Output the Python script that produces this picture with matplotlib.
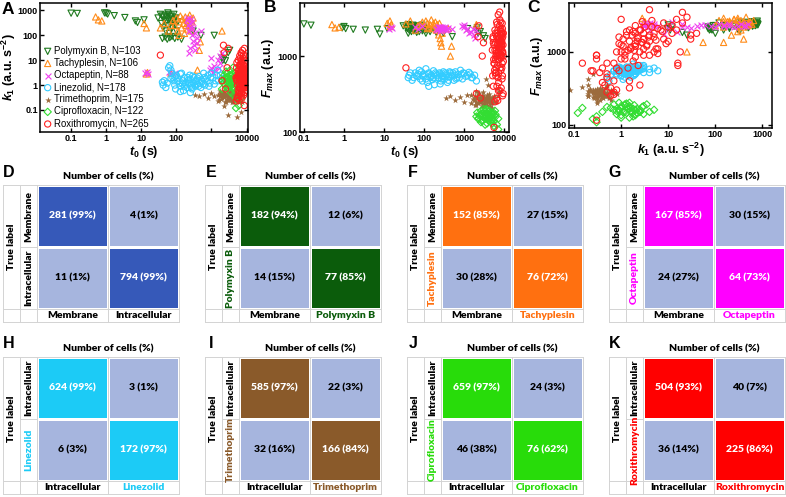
import numpy as np
import matplotlib
matplotlib.use('Agg')
import matplotlib.pyplot as plt
from matplotlib.colors import ListedColormap
from matplotlib.ticker import NullLocator

plt.rcParams['font.family'] = 'Liberation Sans'
plt.rcParams['mathtext.fontset'] = 'custom'
plt.rcParams['mathtext.it'] = 'Liberation Sans:italic:bold'
plt.rcParams['mathtext.rm'] = 'Liberation Sans:bold'
plt.rcParams['mathtext.bf'] = 'Liberation Sans:bold'

# each cell: (t0 [s], k1 [a.u. s^-2], Fmax [a.u.])
polymyxin = [(0.1, 780, 2650), (0.15, 760, 2550), (0.9, 800, 2350), (1.0, 780, 2450), (1.1, 720, 2300),
             (1.7, 620, 2250), (3.4, 520, 2200), (6.8, 380, 2250), (7.8, 330, 1950), (12, 420, 2300),
             (30, 500, 2500), (35, 700, 2400), (38, 300, 2300), (40, 600, 2600), (42, 200, 2200),
             (45, 400, 2450), (48, 650, 2350), (50, 150, 2250), (52, 350, 2550), (55, 500, 2150),
             (58, 250, 2400), (60, 700, 2300), (62, 120, 2500), (65, 450, 2200), (68, 300, 2350),
             (70, 550, 2450), (75, 200, 2100), (80, 400, 2300), (85, 700, 2500), (90, 250, 2250),
             (95, 500, 2400), (100, 150, 2300), (110, 350, 2200), (40, 75, 2000), (48, 85, 2100),
             (55, 70, 2200), (65, 80, 2050), (75, 90, 2300), (90, 75, 2150), (110, 85, 2000),
             (140, 70, 2100), (200, 300, 2050), (300, 150, 2000), (500, 100, 1800), (1200, 100, 2300),
             (2000, 12, 2200), (2100, 10, 2350), (2200, 11, 2000), (2500, 9.5, 2100), (3000, 20, 1850),
             (3300, 25, 1700), (44, 550, 2500), (57, 800, 2400), (72, 600, 2350), (88, 450, 2550)]
tachyplesin = [(0.5, 550, 2600), (0.6, 420, 2350), (0.75, 380, 2400), (12, 300, 2700), (14, 200, 2450),
               (80, 400, 2600), (90, 250, 2800), (100, 500, 2500), (110, 150, 2900), (120, 350, 2700),
               (130, 600, 2400), (140, 200, 2600), (150, 450, 3000), (160, 300, 2300), (170, 120, 2700),
               (180, 550, 2500), (190, 250, 2800), (200, 400, 2200), (210, 180, 2600), (220, 500, 2400),
               (230, 300, 1900), (240, 650, 2700), (250, 220, 1700), (260, 400, 1500), (270, 150, 1350),
               (280, 350, 2000), (300, 500, 2300), (120, 100, 2300), (70, 250, 2500), (60, 150, 2200),
               (45, 300, 2900), (35, 200, 2650), (14, 2.8, 2900), (15, 3.2, 2600), (70, 3, 2500),
               (400, 4, 2300), (450, 25, 1000), (480, 55, 1350), (2000, 150, 2600)]
octapeptin = [(13, 3, 2300), (15, 3.5, 2450), (16, 2.9, 2350), (60, 3.5, 2400), (70, 3, 2300),
              (90, 3.2, 2500), (200, 400, 2300), (210, 250, 2200), (220, 500, 2400), (230, 150, 2350),
              (240, 300, 2250), (250, 200, 2450), (260, 450, 2300), (270, 100, 2200), (280, 350, 2400),
              (290, 60, 2350), (300, 200, 2300), (320, 40, 2250), (330, 120, 2400), (350, 25, 2200),
              (380, 80, 2300), (250, 30, 2150), (230, 20, 2400), (400, 50, 2350), (500, 150, 2300),
              (900, 4, 2500), (1000, 5, 2400), (1100, 3.5, 2200), (1200, 6, 2300), (1300, 4, 2000),
              (1500, 10, 2100), (1700, 15, 1900), (2000, 20, 2200), (1800, 8, 1750), (1000, 12, 2600),
              (1600, 5, 2300)]
linezolid = [(40, 1.3, 520), (42, 1.0, 560), (45, 1.5, 600), (50, 0.8, 480), (60, 5, 600), (65, 6, 550),
             (70, 4, 580), (75, 3, 650), (80, 2, 500), (85, 1.5, 620), (90, 1.0, 470), (95, 0.7, 540),
             (100, 2.5, 580), (110, 1.8, 680), (120, 1.2, 450), (130, 0.9, 600), (140, 3, 520),
             (150, 1.5, 560), (160, 0.6, 490), (170, 2, 640), (180, 1.1, 420), (200, 0.8, 580),
             (220, 1.6, 520), (240, 2.5, 600), (260, 1.0, 470), (280, 0.7, 550), (300, 1.3, 620),
             (320, 2, 500), (350, 0.9, 580), (380, 1.6, 450), (400, 1.1, 530), (450, 2.2, 600),
             (500, 0.8, 560), (550, 1.4, 480), (600, 3, 620), (650, 1.0, 520), (700, 1.8, 570),
             (800, 2.5, 650), (900, 1.2, 500), (1000, 3, 590), (1100, 2, 540), (1300, 1.5, 610),
             (1500, 4, 520), (1800, 2.5, 560), (2000, 1.8, 470), (250, 0.5, 430), (130, 0.55, 400),
             (55, 1.2, 520), (70, 1.8, 540), (90, 2.2, 560), (110, 1.4, 500), (130, 2.8, 580),
             (150, 1.1, 540), (170, 0.9, 520), (190, 1.3, 600), (210, 2, 560), (230, 1.2, 510),
             (250, 1.7, 580), (270, 0.8, 500), (290, 2.3, 540), (330, 1.0, 600), (360, 1.4, 560),
             (400, 1.9, 480), (430, 0.9, 620), (470, 1.2, 540), (520, 1.6, 600), (580, 1.1, 560),
             (620, 2, 500), (750, 1.4, 520), (850, 0.9, 580), (950, 2, 600), (1200, 1.1, 560),
             (1400, 2.5, 580), (1600, 1.5, 520)]
trimethoprim = [(350, 0.4, 280), (450, 0.35, 300), (600, 0.45, 260), (800, 0.3, 290), (1000, 0.5, 250),
                (1200, 0.35, 310), (1500, 0.4, 240), (1600, 0.25, 270), (1800, 0.6, 300), (2000, 0.3, 230),
                (2200, 0.45, 320), (2400, 0.2, 260), (2500, 0.7, 280), (2700, 0.35, 220), (2900, 0.5, 340),
                (3000, 0.25, 300), (3200, 0.4, 250), (3400, 0.3, 270), (3600, 0.55, 230), (3800, 0.2, 290),
                (4000, 0.45, 260), (4200, 0.35, 320), (4500, 0.25, 240), (4800, 0.5, 280), (5000, 0.3, 210),
                (5500, 0.4, 300), (6000, 0.2, 250), (2000, 0.35, 280), (2600, 0.4, 260), (3100, 0.3, 240),
                (3500, 0.25, 500), (4000, 0.2, 420), (2300, 0.15, 330), (3300, 0.8, 260), (4400, 0.6, 220),
                (1900, 0.5, 350), (2800, 0.28, 300), (3700, 0.38, 270), (4600, 0.32, 250), (3000, 0.06, 230),
                (5200, 0.05, 250), (7000, 0.08, 300), (7200, 0.2, 350), (5000, 0.3, 200), (1500, 0.22, 310),
                (1700, 0.35, 260), (1900, 0.28, 250), (2100, 0.4, 290), (2300, 0.32, 270), (2500, 0.45, 250),
                (2700, 0.25, 280), (2900, 0.38, 260), (3100, 0.42, 290), (3300, 0.27, 230), (3500, 0.36, 260),
                (3700, 0.3, 310), (3900, 0.48, 250), (4100, 0.28, 270), (4300, 0.4, 240), (4700, 0.35, 270),
                (2200, 0.55, 240), (3400, 0.6, 280), (2600, 0.2, 250), (4200, 0.22, 290), (1800, 0.42, 230)]
ciprofloxacin = [(2000, 0.7, 160), (2100, 1.5, 180), (2300, 2.5, 150), (2500, 1.0, 170), (2600, 3.5, 190),
                 (2800, 0.8, 140), (3000, 2.0, 160), (3200, 1.2, 185), (3400, 4.0, 150), (3500, 0.9, 200),
                 (3700, 1.8, 130), (3900, 2.8, 175), (4000, 1.3, 145), (4200, 0.7, 190), (4400, 2.2, 165),
                 (4600, 1.0, 135), (4800, 3.0, 180), (5000, 1.6, 155), (5200, 0.6, 170), (5500, 2.0, 140),
                 (5800, 1.2, 190), (6000, 0.9, 160), (6500, 1.5, 125), (7000, 2.5, 150), (3000, 1.5, 200),
                 (3600, 0.5, 175), (4300, 0.4, 150), (5000, 0.3, 130), (5500, 0.25, 120), (6000, 0.15, 170),
                 (5000, 0.12, 145), (7000, 0.3, 108), (2800, 3.0, 140), (3300, 1.0, 125), (4100, 5.0, 160),
                 (2200, 1.2, 150), (2400, 1.8, 165), (2700, 1.3, 175), (2900, 2.2, 145), (3100, 0.9, 155),
                 (3300, 1.6, 170), (3500, 2.5, 160), (3800, 1.1, 150), (4000, 1.9, 185), (4300, 1.4, 165),
                 (4500, 0.8, 155), (2600, 2.0, 135), (3700, 1.3, 195), (4700, 1.7, 145), (5300, 1.0, 180)]
roxithromycin = [(35, 16, 700), (2000, 1.5, 320), (2200, 40, 1800), (2300, 20, 2500), (2500, 0.7, 280),
                 (2800, 5, 1000), (3000, 30, 1500), (5000, 2, 1200), (5200, 5, 1800), (5500, 1, 800),
                 (5500, 0.3, 115), (5800, 10, 2200), (6000, 3, 1500), (6200, 0.8, 600), (6400, 15, 2800),
                 (6500, 2.5, 1000), (6600, 7, 2000), (6800, 1.5, 1400), (7000, 4, 1700), (7000, 20, 3500),
                 (7200, 0.5, 450), (7300, 3, 1100), (7400, 1.2, 900), (7500, 8, 2500), (7600, 2, 1300),
                 (7700, 25, 3000), (7800, 0.7, 700), (7900, 5, 1600), (8000, 1.8, 1900), (8100, 12, 2300),
                 (8200, 3.5, 1250), (8300, 0.4, 380), (8400, 6, 2100), (8500, 1, 1000), (8600, 2.2, 1550),
                 (8700, 30, 1700), (8800, 4.5, 2700), (8900, 0.9, 550), (9000, 1.6, 1150), (9100, 3, 1800),
                 (9200, 10, 1400), (9300, 0.6, 320), (9400, 2, 850), (6000, 4, 900), (6700, 1.8, 750),
                 (7100, 9, 1300), (7500, 1.3, 1700), (7800, 3.2, 2200), (8000, 6, 950), (8500, 2.7, 1350),
                 (6300, 1.1, 1200), (5700, 2.3, 650), (6900, 0.35, 520), (7300, 18, 1000), (8200, 16, 650),
                 (6100, 0.25, 550), (8600, 0.15, 700), (7400, 0.3, 900), (6400, 0.5, 280), (9000, 0.8, 300),
                 (5300, 1.5, 400), (7700, 2.5, 350), (6800, 5.5, 1450), (7900, 1.4, 1050), (8300, 3.8, 1600),
                 (8800, 7.5, 1900), (5800, 0.6, 250), (7600, 4, 3800), (8100, 1.0, 2800), (6600, 2.8, 2600),
                 (5100, 0.23, 550), (5400, 0.3, 900), (5600, 0.3, 800), (5900, 0.4, 600), (6200, 0.5, 700),
                 (6500, 0.7, 400), (6800, 0.7, 260), (7100, 0.45, 350), (7400, 0.9, 1300), (7700, 1.1, 1500),
                 (8000, 1.3, 1900), (8300, 0.9, 1600), (8600, 1.5, 2000), (8900, 2, 2300), (9200, 2.5, 2000),
                 (5200, 1.7, 1700), (5500, 2.2, 1400), (5800, 3.5, 1200), (6100, 1.2, 1000), (6400, 2, 1800),
                 (6700, 3, 900), (7000, 1.6, 1100), (7300, 2.3, 1600), (7600, 1.0, 1250), (7900, 2.8, 1350),
                 (8200, 1.9, 1050), (8500, 4, 1400), (8800, 1.2, 800), (9100, 5.5, 1100), (9400, 0.8, 1000),
                 (6000, 2.6, 2000), (6900, 4.5, 2200), (7800, 3, 1500), (8400, 2, 1200), (5300, 8, 1500),
                 (6600, 12, 1800), (9300, 15, 2000), (7200, 1.4, 600), (8700, 0.5, 500), (6300, 6, 1100)]

drug_names = ['Polymyxin B', 'Tachyplesin', 'Octapeptin', 'Linezolid', 'Trimethoprim', 'Ciprofloxacin', 'Roxithromycin']
drug_n = [103, 106, 88, 178, 175, 122, 265]
drug_data = [polymyxin, tachyplesin, octapeptin, linezolid, trimethoprim, ciprofloxacin, roxithromycin]
drug_colors = ['#1f7a1f', '#ff8c1a', '#f040f0', '#33ccff', '#9c6b3c', '#33dd33', '#ff2020']
drug_markers = ['v', '^', 'x', 'o', '*', 'D', 'o']

# confusion matrices
cm_letters = ['D', 'E', 'F', 'G', 'H', 'I', 'J', 'K']
cm_classes = [['Membrane', 'Intracellular'], ['Membrane', 'Polymyxin B'], ['Membrane', 'Tachyplesin'],
              ['Membrane', 'Octapeptin'], ['Intracellular', 'Linezolid'], ['Intracellular', 'Trimethoprim'],
              ['Intracellular', 'Ciprofloxacin'], ['Intracellular', 'Roxithromycin']]
cm_counts = [[[281, 4], [11, 794]], [[182, 12], [14, 77]], [[152, 27], [30, 76]], [[167, 30], [24, 64]],
             [[624, 3], [6, 172]], [[585, 22], [32, 166]], [[659, 24], [46, 76]], [[504, 40], [36, 225]]]
cm_pct = [[[99, 1], [1, 99]], [[94, 6], [15, 85]], [[85, 15], [28, 72]], [[85, 15], [27, 73]],
          [[99, 1], [3, 97]], [[97, 3], [16, 84]], [[97, 3], [38, 62]], [[93, 7], [14, 86]]]
cm_dark = ['#3659b9', '#0b5c0b', '#ff7010', '#ff00ff', '#1ccbf6', '#8a5a2a', '#28dc0a', '#ff0000']
cm_label_color = ['black', '#0b5c0b', '#ff7010', '#ff00ff', '#1ccbf6', '#8a5a2a', '#28dc0a', '#ff0000']
light = '#a6b5de'

W, H = 786, 497
fig = plt.figure(figsize=(W / 100, H / 100), dpi=100)


def px_axes(x0, y0, x1, y1):
    return fig.add_axes([x0 / W, 1 - y1 / H, (x1 - x0) / W, (y1 - y0) / H])


def draw_scatter(ax, ix, iy):
    handles = []
    for data, name, n, col, mk in zip(drug_data, drug_names, drug_n, drug_colors, drug_markers):
        arr = np.array(data)
        x, y = arr[:, ix], arr[:, iy]
        if mk == '*':
            h = ax.scatter(x, y, marker=mk, s=24, color=col, linewidths=0)
        elif mk == 'x':
            h = ax.scatter(x, y, marker=mk, s=18, color=col, linewidths=0.8)
        else:
            s = 14 if mk == 'D' else 20
            h = ax.scatter(x, y, marker=mk, s=s, facecolors='none', edgecolors=col, linewidths=0.8)
        handles.append((h, f'{name}, N={n}'))
    ax.set_xscale('log')
    ax.set_yscale('log')
    ax.xaxis.set_minor_locator(NullLocator())
    ax.yaxis.set_minor_locator(NullLocator())
    ax.tick_params(direction='in', top=True, right=True, labelsize=6.5, width=1, length=3, pad=1.5)
    for sp in ax.spines.values():
        sp.set_linewidth(1.1)
    return handles


def bold_ticks(ax):
    for lbl in ax.get_xticklabels() + ax.get_yticklabels():
        lbl.set_fontweight('bold')


k1_label = '$k_1$ (a.u. s$^{-2}$)'
t0_label = '$t_0$ (s)'
f_label = '$F_{max}$ (a.u.)'

# A
axA = px_axes(40, 3, 248, 132)
hA = draw_scatter(axA, 0, 1)
axA.set_xlim(0.013, 11000)
axA.set_ylim(0.013, 2000)
axA.set_xticks([0.1, 1, 10, 100, 1000, 10000])
axA.set_xticklabels(['0.1', '1', '10', '100', '', '10000'])
axA.set_yticks([0.1, 1, 10, 100, 1000])
axA.set_yticklabels(['0.1', '1', '10', '100', '1000'])
axA.set_xlabel(t0_label, fontsize=9, fontweight='bold', labelpad=1)
axA.set_ylabel(k1_label, fontsize=9, fontweight='bold', labelpad=0)
bold_ticks(axA)
axA.legend([h for h, _ in hA], [l for _, l in hA], loc='upper left', bbox_to_anchor=(0.0, 0.69),
           frameon=False, fontsize=6.9, handletextpad=0.2, labelspacing=0.22, borderpad=0.1,
           handlelength=1.0, borderaxespad=0.2)

# B
axB = px_axes(300, 3, 509, 132)
draw_scatter(axB, 0, 2)
axB.set_xlim(0.08, 13000)
axB.set_ylim(100, 5000)
axB.set_xticks([0.1, 1, 10, 100, 1000, 10000])
axB.set_xticklabels(['0.1', '1', '10', '100', '1000', '10000'])
axB.set_yticks([100, 1000])
axB.set_yticklabels(['100', '1000'])
axB.set_xlabel(t0_label, fontsize=9, fontweight='bold', labelpad=1)
axB.set_ylabel(f_label, fontsize=9, fontweight='bold', labelpad=1)
bold_ticks(axB)

# C
axC = px_axes(569, 3, 772, 128)
draw_scatter(axC, 1, 2)
axC.set_xlim(0.078, 1600)
axC.set_ylim(90, 4700)
axC.set_xticks([0.1, 1, 10, 100, 1000])
axC.set_xticklabels(['0.1', '1', '10', '100', '1000'])
axC.set_yticks([100, 1000])
axC.set_yticklabels(['100', '1000'])
axC.set_xlabel(k1_label, fontsize=9, fontweight='bold', labelpad=1)
axC.set_ylabel(f_label, fontsize=9, fontweight='bold', labelpad=1)
bold_ticks(axC)

for letter, (x, y) in zip(['A', 'B', 'C'], [(8, 9), (270, 8), (533, 8)]):
    fig.text(x / W, 1 - y / H, letter, fontsize=12.5, fontweight='bold', ha='center', va='center')

# confusion matrices
lefts = [3, 205, 407, 609]
tops = [185, 357]
cmap_font = 'Lato'
for k in range(8):
    L = lefts[k % 4]
    T = tops[k // 4]
    ax = px_axes(L, T, L + 176, T + 137)
    ax.set_xlim(0, 176)
    ax.set_ylim(137, 0)
    ax.axis('off')
    grid = '#d3d3d3'
    for xv in [0, 17, 34, 105, 176]:
        ax.plot([xv, xv], [0, 137], color=grid, lw=0.7, clip_on=False)
    for yv in [0, 124, 137]:
        ax.plot([0, 176], [yv, yv], color=grid, lw=0.7, clip_on=False)
    ax.plot([17, 34], [62, 62], color=grid, lw=0.7)
    mask = np.eye(2)
    ax.pcolormesh([34, 105, 176], [0, 62, 124], mask, cmap=ListedColormap([light, cm_dark[k]]),
                  edgecolors='white', linewidth=0.8)
    for i in range(2):
        for j in range(2):
            tc = 'white' if i == j else 'black'
            ax.text(69.5 + 71 * j, 31 + 62 * i, f'{cm_counts[k][i][j]} ({cm_pct[k][i][j]}%)',
                    ha='center', va='center', fontsize=7.5, fontweight='heavy', color=tc, family=cmap_font)
    ax.text(8.5, 62, 'True label', rotation=90, ha='center', va='center', fontsize=7.5,
            fontweight='heavy', family=cmap_font)
    lcols = ['black', cm_label_color[k]]
    for i in range(2):
        ax.text(25.5, 31 + 62 * i, cm_classes[k][i], rotation=90, ha='center', va='center',
                fontsize=7.5, fontweight='heavy', color=lcols[i], family=cmap_font)
        ax.text(69.5 + 71 * i, 131, cm_classes[k][i], ha='center', va='center',
                fontsize=7.5, fontweight='heavy', color=lcols[i], family=cmap_font)
    ax.text(105, -8, 'Number of cells (%)', ha='center', va='center', fontsize=7.5,
            fontweight='heavy', family=cmap_font, clip_on=False)
    ax.text(6, -13, cm_letters[k], ha='center', va='center', fontsize=11.5, fontweight='bold', clip_on=False)

fig.savefig('out.png', dpi=100)
